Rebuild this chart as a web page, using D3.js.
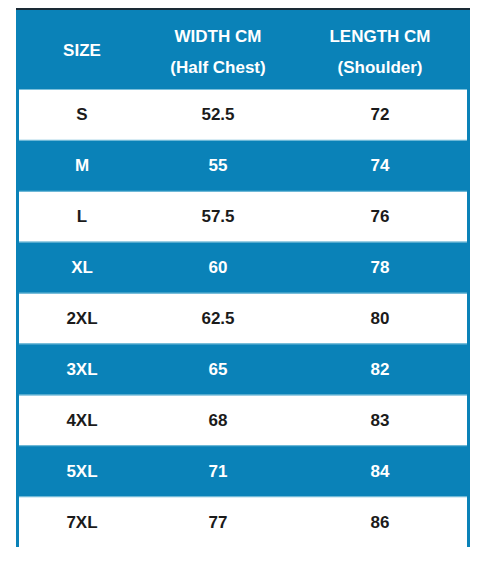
<!DOCTYPE html>
<html><head><meta charset="utf-8">
<script src="https://cdn.jsdelivr.net/npm/d3@7"></script>
<style>body{margin:0;background:#fff}</style>
</head><body><svg id="t" width="480" height="563"></svg>
<script>
// table data
const sizes = ["S","M","L","XL","2XL","3XL","4XL","5XL","7XL"];
const widthCm = ["52.5","55","57.5","60","62.5","65","68","71","77"];
const lengthCm = ["72","74","76","78","80","82","83","84","86"];
const headers = [["SIZE"],["WIDTH CM","(Half Chest)"],["LENGTH CM","(Shoulder)"]];

const blue = "#0a82b8";
const svg = d3.select("#t");
const tblLeft = 16, tblRight = 470, tblTop = 9, headH = 80, tblBottom = 547;

const colX = [82, 218, 380];
const y = d3.scaleBand().domain(sizes).range([tblTop+headH, tblBottom]);

svg.append("rect").attr("x",tblLeft).attr("y",tblTop).attr("width",tblRight-tblLeft).attr("height",tblBottom-tblTop).attr("fill",blue);
svg.append("line").attr("x1",tblLeft).attr("x2",tblRight).attr("y1",tblTop).attr("y2",tblTop).attr("stroke","#1a2a35").attr("stroke-width",2);

// rows
const rows = svg.selectAll("g.row").data(sizes).enter().append("g");
rows.append("rect")
  .attr("x",tblLeft+3).attr("width",tblRight-tblLeft-6)
  .attr("y",d=>y(d)+1).attr("height",y.bandwidth()-1)
  .attr("fill",(d,i)=>i%2===0?"#fff":blue);
rows.append("line").attr("x1",tblLeft+3).attr("x2",tblRight-3)
  .attr("y1",d=>y(d)+0.5).attr("y2",d=>y(d)+0.5).attr("stroke","#7cc0dc").attr("stroke-width",1);

const cols = [sizes, widthCm, lengthCm];
cols.forEach((vals,c)=>{
  svg.selectAll(null).data(vals).enter().append("text")
    .attr("x",colX[c]).attr("y",(d,i)=>y(sizes[i])+y.bandwidth()/2+6)
    .attr("text-anchor","middle")
    .attr("font-family","Liberation Sans, Arial, sans-serif").attr("font-weight","bold").attr("font-size",17)
    .attr("fill",(d,i)=>i%2===0?"#1b1b1b":"#fff").text(d=>d);
});

headers.forEach((h,c)=>{
  const t = svg.append("text").attr("text-anchor","middle")
    .attr("font-family","Liberation Sans, Arial, sans-serif").attr("font-weight","bold").attr("font-size",17).attr("fill","#fff");
  if(h.length===1){
    t.append("tspan").attr("x",colX[c]).attr("y",56).text(h[0]);
  } else {
    t.append("tspan").attr("x",colX[c]).attr("y",42).text(h[0]);
    t.append("tspan").attr("x",colX[c]).attr("y",73).text(h[1]);
  }
});
</script></body></html>
